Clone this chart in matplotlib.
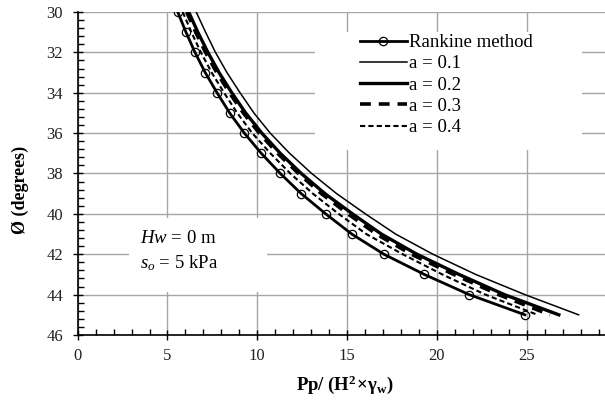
import matplotlib
matplotlib.use("Agg")
import matplotlib.pyplot as plt
from matplotlib.patches import Rectangle
from matplotlib.ticker import MultipleLocator, FuncFormatter

plt.rcParams['font.family'] = ['Liberation Serif', 'DejaVu Serif']
plt.rcParams['mathtext.fontset'] = 'custom'
plt.rcParams['mathtext.rm'] = 'Liberation Serif'
plt.rcParams['mathtext.it'] = 'Liberation Serif:italic'
plt.rcParams['mathtext.bf'] = 'Liberation Serif:bold'

# friction angle (degrees)
phi = [30, 31, 32, 33, 34, 35, 36, 37, 38, 39, 40, 41, 42, 43, 44, 45]

# normalised passive thrust Pp/(H^2*gamma_w)
rankine = [5.57, 6.03, 6.53, 7.10, 7.76, 8.46, 9.28, 10.22, 11.28, 12.45,
           13.81, 15.26, 17.05, 19.30, 21.80, 24.90]
a_01 = [6.60, 7.12, 7.67, 8.31, 9.04, 9.81, 10.72, 11.80, 13.03, 14.42,
        16.02, 17.70, 19.78, 22.16, 24.90, 27.89]
a_02 = [6.18, 6.69, 7.25, 7.87, 8.58, 9.35, 10.25, 11.28, 12.45, 13.77,
        15.30, 16.91, 18.89, 21.23, 23.76, 26.79]
a_03 = [6.07, 6.57, 7.12, 7.74, 8.45, 9.22, 10.11, 11.13, 12.30, 13.57,
        15.05, 16.63, 18.58, 20.94, 23.44, 26.30]
a_04 = [5.85, 6.33, 6.86, 7.46, 8.15, 8.88, 9.72, 10.73, 11.84, 13.10,
        14.53, 16.07, 18.10, 20.30, 22.70, 25.60]

fig = plt.figure(figsize=(6.05, 4.01), dpi=100)
ax = fig.add_axes([0.1284, 0.1646, 0.8906, 0.8055])

ax.plot(rankine, phi, color='black', lw=2.0, marker='o', ms=6,
        mfc='none', mec='black', mew=0.9, label='Rankine method', zorder=3)
ax.plot(a_01, phi, color='black', lw=1.1, label='a = 0.1', zorder=3)
ax.plot(a_02, phi, color='black', lw=2.4, label='a = 0.2', zorder=3)
ax.plot(a_03, phi, color='black', lw=2.6, dashes=(3.0, 2.2), label='a = 0.3', zorder=3)
ax.plot(a_04, phi, color='black', lw=1.5, dashes=(2.5, 1.5), label='a = 0.4', zorder=3)

ax.set_xlim(0, 30)
ax.set_ylim(46, 30)
ax.xaxis.set_major_locator(MultipleLocator(5))
ax.xaxis.set_minor_locator(MultipleLocator(1))
ax.xaxis.set_major_formatter(FuncFormatter(lambda v, p: '' if v >= 30 else f'{v:g}'))
ax.yaxis.set_major_locator(MultipleLocator(2))
ax.yaxis.set_minor_locator(MultipleLocator(0.4))
ax.tick_params(which='major', direction='inout', length=7, width=1,
               labelsize=12, labelcolor='#222222')
ax.tick_params(which='minor', direction='in', length=4, width=1)
ax.tick_params(axis='y', which='major', pad=7)
ax.tick_params(axis='x', which='major', pad=6)

ax.set_axisbelow(True)
ax.grid(True, which='major', color='#a6a6a6', lw=1.0)
for side in ('top', 'right'):
    ax.spines[side].set_visible(False)
for side in ('left', 'bottom'):
    ax.spines[side].set_linewidth(1.2)

# white panels behind the legend and the annotation
ax.add_patch(Rectangle((0.440, 0.573), 0.496, 0.365, transform=ax.transAxes,
                       facecolor='white', edgecolor='none', zorder=1))
ax.add_patch(Rectangle((0.095, 0.133), 0.256, 0.229, transform=ax.transAxes,
                       facecolor='white', edgecolor='none', zorder=1))

ax.text(0.115, 0.286, r'$Hw$ = 0 m', transform=ax.transAxes,
        fontsize=13.5, va='baseline')
ax.text(0.115, 0.208, r'$s_o$ = 5 kPa', transform=ax.transAxes,
        fontsize=13.5, va='baseline')

ax.legend(loc='upper left', bbox_to_anchor=(360 / 605, 1 - 34 / 401),
          bbox_transform=fig.transFigure, frameon=False, borderpad=0,
          fontsize=13.5, handlelength=2.5, handletextpad=0.1,
          labelspacing=0.22, borderaxespad=0)

fig.text(345 / 605, 1 - 385 / 401, r'$\mathbf{Pp/\ (H^{2}\!\times\!\gamma_{w})}$',
         ha='center', va='center', fontsize=13.5)
fig.text(0.033, 1 - 190 / 401, 'Ø (degrees)', rotation=90, ha='center',
         va='center', fontsize=13, fontweight='bold')

fig.savefig('out.png', dpi=100)
